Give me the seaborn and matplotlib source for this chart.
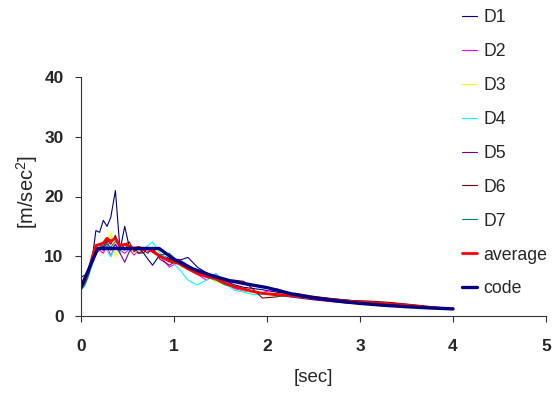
import numpy as np
import pandas as pd
import seaborn as sns
import matplotlib
matplotlib.use("Agg")
import matplotlib.pyplot as plt

# ---- data ----
period = [0, 0.04, 0.08, 0.12, 0.16, 0.2, 0.24, 0.28, 0.32, 0.37, 0.42, 0.47, 0.52, 0.57,
          0.62, 0.67, 0.72, 0.77, 0.85, 0.95, 1.05, 1.15, 1.25, 1.35, 1.45, 1.55, 1.65,
          1.75, 1.85, 1.95, 2.1, 2.3, 2.5, 2.7, 2.9, 3.1, 3.3, 3.5, 3.75, 4.0]

d1 = [6.5, 6.8, 7.5, 9.5, 14.3, 14.0, 16.0, 15.0, 16.5, 21.0, 11.0, 15.0, 11.5, 10.8,
      10.5, 10.6, 9.5, 8.5, 10.3, 9.6, 9.3, 9.8, 8.2, 7.2, 6.6, 5.9, 5.2, 4.8, 4.6, 4.4,
      4.0, 3.6, 3.2, 2.9, 2.6, 2.3, 2.1, 1.9, 1.5, 1.2]
d2 = [4.6, 5.5, 7.0, 9.0, 10.5, 11.0, 10.5, 11.8, 10.0, 12.0, 11.0, 10.5, 11.2, 10.2,
      11.0, 11.5, 10.8, 11.0, 10.0, 8.2, 9.0, 8.2, 7.0, 6.0, 7.1, 5.5, 4.6, 4.2, 4.0, 3.9,
      4.6, 3.5, 3.2, 2.6, 2.2, 2.3, 2.0, 1.8, 1.4, 1.1]
d3 = [4.7, 5.8, 7.3, 9.5, 11.0, 11.5, 12.0, 12.5, 14.0, 9.9, 11.5, 11.0, 12.0, 10.5,
      11.0, 10.8, 11.2, 11.5, 10.0, 9.0, 8.8, 8.0, 7.6, 6.5, 5.8, 5.2, 4.8, 4.3, 3.9, 3.6,
      3.4, 3.2, 2.8, 2.5, 2.3, 2.2, 2.0, 1.7, 1.4, 1.2]
d4 = [4.3, 5.0, 6.5, 8.5, 10.5, 11.5, 12.0, 11.0, 9.9, 11.5, 10.5, 12.0, 10.8, 11.5,
      11.0, 11.2, 11.8, 12.4, 10.5, 9.3, 8.0, 6.0, 5.2, 6.0, 7.1, 5.5, 4.3, 4.0, 3.6, 3.6,
      3.7, 3.8, 3.0, 2.7, 2.5, 2.2, 2.0, 1.8, 1.4, 1.1]
d5 = [4.6, 5.8, 7.8, 9.8, 10.8, 11.5, 11.0, 12.5, 11.0, 12.0, 10.5, 9.0, 10.8, 11.5,
      10.5, 11.0, 10.5, 11.5, 9.5, 8.5, 9.5, 8.5, 7.5, 6.5, 6.2, 5.6, 4.8, 4.5, 4.1, 3.8,
      3.5, 3.1, 2.7, 2.4, 2.1, 2.0, 1.9, 1.7, 1.4, 1.2]
d6 = [4.8, 6.0, 7.5, 9.8, 11.5, 12.0, 11.5, 12.8, 12.0, 13.5, 11.0, 12.0, 12.4, 10.8,
      11.5, 10.5, 11.5, 10.8, 9.8, 9.5, 8.8, 8.0, 7.5, 7.0, 6.3, 6.0, 6.0, 5.8, 4.5, 3.0,
      3.2, 3.8, 3.3, 2.9, 2.6, 2.5, 2.3, 2.0, 1.6, 1.2]
d7 = [4.4, 5.2, 6.8, 9.0, 11.0, 11.5, 11.8, 12.0, 11.5, 12.5, 11.5, 11.0, 11.8, 11.0,
      11.5, 11.2, 11.5, 11.0, 10.2, 10.5, 9.0, 8.5, 7.2, 6.5, 6.0, 5.2, 4.8, 4.6, 4.2, 3.8,
      3.4, 3.2, 2.9, 2.6, 2.4, 2.3, 2.1, 1.9, 1.5, 1.2]
average = [4.7, 5.8, 7.4, 9.8, 11.8, 12.0, 12.2, 13.0, 12.5, 13.0, 11.8, 12.0, 11.7, 11.3,
           11.5, 11.2, 11.3, 10.8, 10.0, 9.2, 8.8, 7.9, 7.1, 6.6, 6.3, 5.5, 4.9, 4.5, 4.1,
           3.8, 3.6, 3.4, 3.0, 2.6, 2.4, 2.2, 2.0, 1.8, 1.4, 1.2]

code_period = [0, 0.18, 0.84, 1.0, 1.2, 1.4, 1.6, 1.8, 2.0, 2.25, 2.5, 2.75, 3.0, 3.25,
               3.5, 3.75, 4.0]
code = [4.8, 11.3, 11.3, 9.5, 7.9, 6.8, 5.9, 5.3, 4.75, 3.75, 3.04, 2.51, 2.11, 1.80,
        1.55, 1.35, 1.19]

series_names = ["D1", "D2", "D3", "D4", "D5", "D6", "D7", "average"]
series_values = [d1, d2, d3, d4, d5, d6, d7, average]
x_ticks = [0, 1, 2, 3, 4, 5]
y_ticks = [0, 10, 20, 30, 40]

colors = {"D1": "#000080", "D2": "#FF00FF", "D3": "#FFFF00", "D4": "#00FFFF",
          "D5": "#800080", "D6": "#800000", "D7": "#008080", "average": "#FF0000",
          "code": "#000080"}
widths = {"average": 2.0, "code": 2.4}

sns.set_style("white")
plt.rcParams["font.family"] = ["Liberation Sans", "DejaVu Sans"]
plt.rcParams["mathtext.fontset"] = "custom"
plt.rcParams["mathtext.rm"] = "Liberation Sans"
plt.rcParams["mathtext.it"] = "Liberation Sans"

fig = plt.figure(figsize=(5.55, 3.94), dpi=100)
ax = fig.add_axes([81 / 555, 1 - 316 / 394, (546 - 81) / 555, (316 - 77) / 394])

frames = []
for name, vals in zip(series_names, series_values):
    frames.append(pd.DataFrame({"T": period, "A": vals, "series": name}))
frames.append(pd.DataFrame({"T": code_period, "A": code, "series": "code"}))
df = pd.concat(frames, ignore_index=True)

for name in series_names + ["code"]:
    sub = df[df["series"] == name]
    sns.lineplot(data=sub, x="T", y="A", ax=ax, color=colors[name],
                 linewidth=widths.get(name, 0.8), label=name, sort=False,
                 estimator=None)

ax.set_xlim(0, 5)
ax.set_ylim(0, 40)
ax.set_xticks(x_ticks)
ax.set_yticks(y_ticks)
for lab in ax.get_xticklabels() + ax.get_yticklabels():
    lab.set_fontweight("bold")
    lab.set_fontsize(12.5)
ax.tick_params(axis="both", direction="out", length=4.5, width=0.8, color="#333333",
               bottom=True, left=True)
ax.tick_params(axis="y", pad=8)
ax.tick_params(axis="x", pad=12)
for s in ["top", "right"]:
    ax.spines[s].set_visible(False)
for s in ["left", "bottom"]:
    ax.spines[s].set_color("#333333")
    ax.spines[s].set_linewidth(0.8)

ax.set_xlabel("[sec]", fontsize=13.5)
ax.xaxis.set_label_coords(0.5, -(378 - 316) / (316 - 77), transform=ax.transAxes)
ax.set_ylabel("[m/sec$^{2}$]", fontsize=14.5)
ax.yaxis.set_label_coords(-(81 - 27) / (546 - 81), (316 - 192) / (316 - 77),
                          transform=ax.transAxes)
ax.xaxis.label.set_va("center")
ax.yaxis.label.set_va("center")

leg = ax.legend(loc="upper left", bbox_to_anchor=(462 / 555, 1 - 9 / 394),
                bbox_transform=fig.transFigure, frameon=False, fontsize=12.7,
                handlelength=0.85, handletextpad=0.35, labelspacing=0.96,
                borderpad=0, borderaxespad=0)

fig.savefig("out.png", dpi=100)
